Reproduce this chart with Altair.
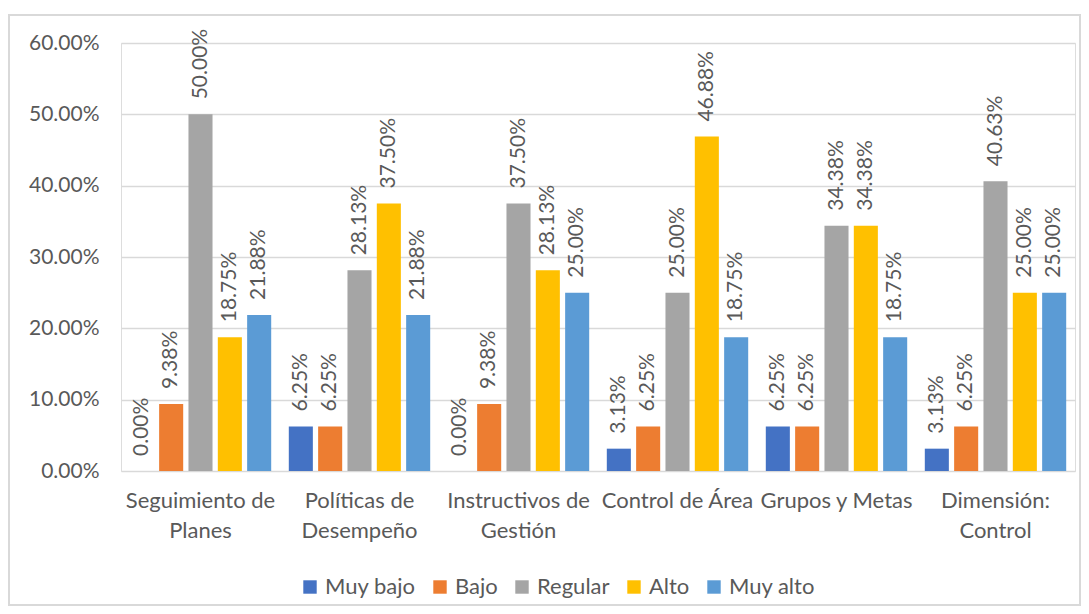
import altair as alt
import pandas as pd

categories = ["Seguimiento de Planes", "Políticas de Desempeño", "Instructivos de Gestión",
              "Control de Área", "Grupos y Metas", "Dimensión: Control"]
levels = ["Muy bajo", "Bajo", "Regular", "Alto", "Muy alto"]
colors = ["#4472C4", "#ED7D31", "#A5A5A5", "#FFC000", "#5B9BD5"]

muy_bajo = [0.0000, 0.0625, 0.0000, 0.0313, 0.0625, 0.0313]
bajo     = [0.0938, 0.0625, 0.0938, 0.0625, 0.0625, 0.0625]
regular  = [0.5000, 0.2813, 0.3750, 0.2500, 0.3438, 0.4063]
alto     = [0.1875, 0.3750, 0.2813, 0.4688, 0.3438, 0.2500]
muy_alto = [0.2188, 0.2188, 0.2500, 0.1875, 0.1875, 0.2500]

series = [muy_bajo, bajo, regular, alto, muy_alto]
rows = []
for lvl, vals in zip(levels, series):
    for c, v in zip(categories, vals):
        rows.append({"cat": c, "nivel": lvl, "valor": v})
df = pd.DataFrame(rows)

FONT = "Lato"
TXT = "#595959"

label_expr = (
    "datum.label == 'Seguimiento de Planes' ? ['Seguimiento de', 'Planes'] : "
    "datum.label == 'Políticas de Desempeño' ? ['Políticas de', 'Desempeño'] : "
    "datum.label == 'Instructivos de Gestión' ? ['Instructivos de', 'Gestión'] : "
    "datum.label == 'Dimensión: Control' ? ['Dimensión:', 'Control'] : datum.label"
)

x = alt.X("cat:N", sort=categories, title=None,
          scale=alt.Scale(paddingInner=0, paddingOuter=0),
          axis=alt.Axis(labelAngle=0, ticks=False, domain=False, labelPadding=19,
                        labelFontSize=22, labelColor=TXT, labelFont=FONT,
                        labelLineHeight=30, labelExpr=label_expr, labelLimit=300))
xo = alt.XOffset("nivel:N", sort=levels,
                 scale=alt.Scale(paddingInner=0.18, paddingOuter=0.3))
y = alt.Y("valor:Q", title=None,
          scale=alt.Scale(domain=[0, 0.6], nice=False),
          axis=alt.Axis(format=".2%", values=[0, 0.1, 0.2, 0.3, 0.4, 0.5, 0.6],
                        ticks=False, domain=False, labelPadding=22,
                        labelFontSize=21, labelColor=TXT, labelFont=FONT,
                        gridColor="#D9D9D9", gridWidth=1.3))
color = alt.Color("nivel:N", sort=levels, title=None,
                  scale=alt.Scale(domain=levels, range=colors),
                  legend=alt.Legend(orient="none", direction="horizontal",
                                    legendX=178, legendY=533,
                                    symbolType="square", symbolSize=180,
                                    symbolStrokeWidth=0, symbolOpacity=1,
                                    labelFontSize=22, labelColor=TXT, labelFont=FONT,
                                    columnPadding=13, labelOffset=4))

base = alt.Chart(df)

border = base.mark_rect(fill=None, stroke="#D9D9D9", strokeWidth=1.3, clip=False).encode(
    x=alt.value(-112), x2=alt.value(959), y=alt.value(-28), y2=alt.value(562))

bars = base.mark_bar().encode(x=x, xOffset=xo, y=y, color=color)

labels = base.mark_text(angle=270, align="left", baseline="middle", dx=15,
                        fontSize=21, font=FONT, color=TXT).encode(
    x=x, xOffset=xo, y=y, text=alt.Text("valor:Q", format=".2%"))

chart = alt.layer(border, bars, labels).properties(
    width=954, height=428,
    autosize=alt.AutoSizeParams(type="none"),
    padding={"left": 113, "top": 35, "right": 6, "bottom": 135},
).configure_view(stroke=None).configure(background="white")

chart.save("out.html", embed_options={"renderer": "svg", "actions": False})
